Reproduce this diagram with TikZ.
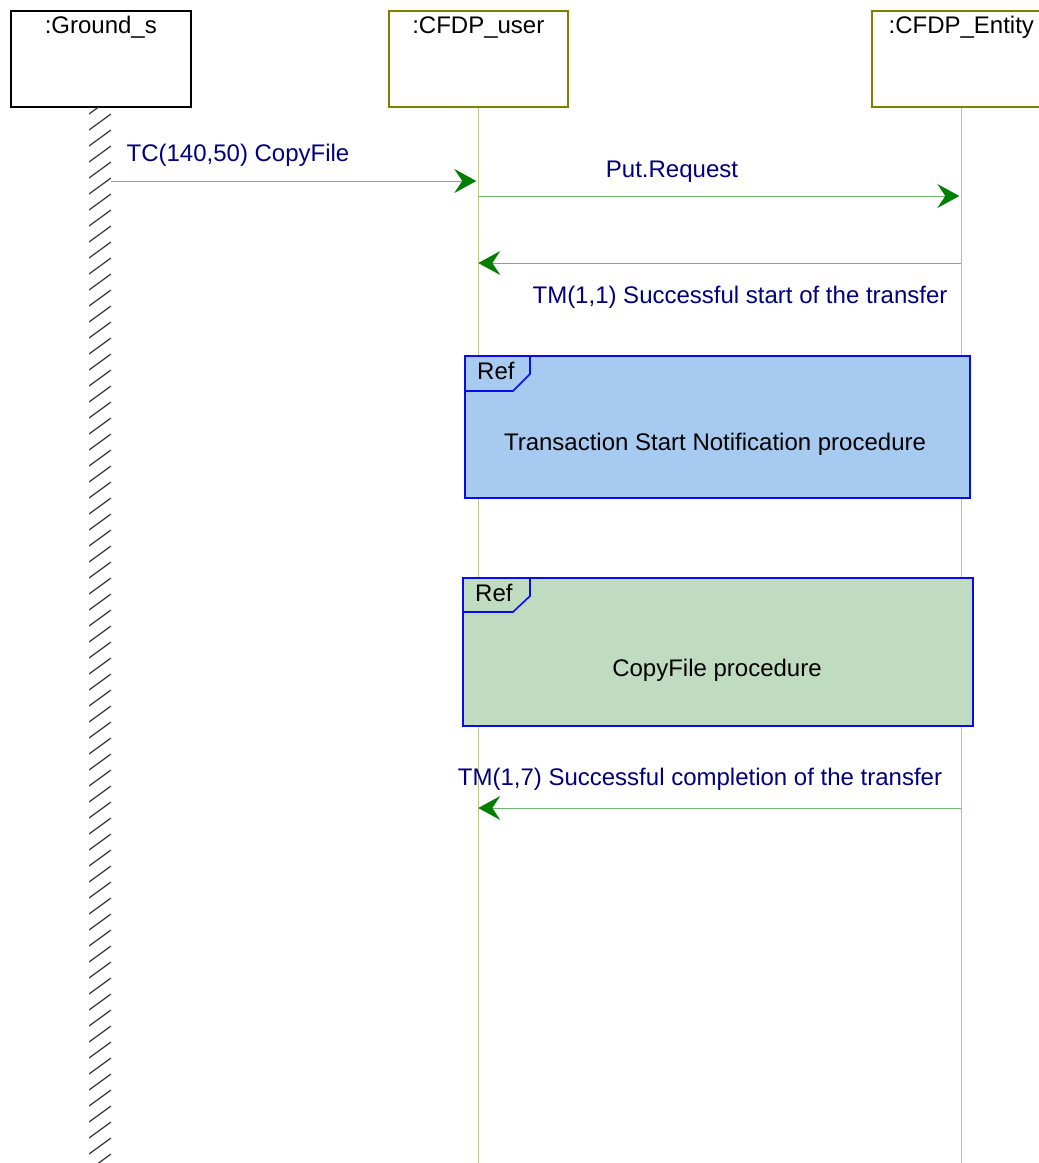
\documentclass[tikz,border=0pt]{standalone}
\usepackage{fontspec}
\setmainfont{Liberation Sans}
\usetikzlibrary{arrows.meta,positioning}

\definecolor{msgtext}{HTML}{000080}
\definecolor{msgline}{HTML}{6FB56F}
\definecolor{msghead}{HTML}{007F00}
\definecolor{objolive}{HTML}{808000}
\definecolor{lifekhaki}{HTML}{C4C48A}
\definecolor{refborder}{HTML}{0A0AF0}
\definecolor{refblue}{HTML}{A6CAF0}
\definecolor{refgreen}{HTML}{C0DCC0}

\begin{document}
\begin{tikzpicture}[x=1pt,y=-1pt,
    every node/.style={font=\fontsize{24}{28}\selectfont},
    objbox/.style={draw=objolive, line width=1.6pt, minimum width=179pt,
        minimum height=96pt, inner sep=0pt, anchor=north west},
    objname/.style={anchor=base, inner sep=0pt},
    lifeline/.style={draw=lifekhaki, line width=1pt},
    hatch/.style={draw=black!80, line width=1.2pt},
    msg/.style={draw=msgline, line width=1pt,
        -{Stealth[length=22pt,width=24pt,inset=8pt,color=msghead]}},
    msglabel/.style={text=msgtext, anchor=base, inner sep=0pt},
    refframe/.style={draw=refborder, line width=1.6pt, inner sep=0pt, anchor=north west},
    reftab/.style={draw=refborder, line width=1.6pt},
    reftext/.style={anchor=base, inner sep=0pt}]

    \useasboundingbox (0,0) rectangle (1039,1163);
    \clip (0,0) rectangle (1039,1163);
    \fill[white] (0,0) rectangle (1039,1163);

    % objects
    \node[objbox, draw=black, minimum width=180pt] (ground) at (10,10) {};
    \node[objbox] (user) at (388,10) {};
    \node[objbox] (entity) at (871,10) {};
    \node[objname] (groundname) at ([yshift=-23.5pt]ground.north) {:Ground\_s};
    \node[objname] (username) at ([yshift=-23.5pt]user.north) {:CFDP\_user};
    \node[objname] (entityname) at ([yshift=-23.5pt]entity.north) {:CFDP\_Entity};

    % lifelines
    \coordinate (userend) at (user.south |- 0,1163);
    \coordinate (entityend) at (entity.south |- 0,1163);
    \draw[lifeline] (user.south) -- (userend);
    \draw[lifeline] (entity.south) -- (entityend);
    \begin{scope}
        \clip (89,107) rectangle (111,1163);
        \foreach \y in {98,114,...,1180}
            \draw[hatch] (89,\y+16) -- (111,\y);
    \end{scope}

    % messages
    \coordinate (tcstart) at (111,181);
    \coordinate (tcend) at ([xshift=-2pt]user.south |- tcstart);
    \coordinate (putstart) at (user.south |- 0,196);
    \coordinate (putend) at ([xshift=-2pt]entity.south |- putstart);
    \coordinate (tmastart) at (entity.south |- 0,263);
    \coordinate (tmaend) at (user.south |- tmastart);
    \coordinate (tmbstart) at (entity.south |- 0,808);
    \coordinate (tmbend) at (user.south |- tmbstart);
    \draw[msg] (tcstart) -- (tcend);
    \draw[msg] (putstart) -- (putend);
    \draw[msg] (tmastart) -- (tmaend);
    \draw[msg] (tmbstart) -- (tmbend);
    \node[msglabel] (tclabel) at (238,161) {TC(140,50) CopyFile};
    \node[msglabel] (putlabel) at (672,177) {Put.Request};
    \node[msglabel] (tmalabel) at (740,303) {TM(1,1) Successful start of the transfer};
    \node[msglabel] (tmblabel) at (700,785) {TM(1,7) Successful completion of the transfer};

    % ref frames
    \node[refframe, fill=refblue, minimum width=505pt, minimum height=142pt] (refstart) at (464,355) {};
    \draw[reftab] (refstart.north west) ++(66,0) -- ++(0,19) -- ++(-17,17) -- ++(-49,0);
    \node[reftext, anchor=base west] (refstartref) at ([xshift=13pt,yshift=-24pt]refstart.north west) {Ref};
    \node[reftext] (refstarttext) at (715,450) {Transaction Start Notification procedure};

    \node[refframe, fill=refgreen, minimum width=510pt, minimum height=148pt] (refcopy) at (462,577) {};
    \draw[reftab] (refcopy.north west) ++(68,0) -- ++(0,19) -- ++(-17,16) -- ++(-51,0);
    \node[reftext, anchor=base west] (refcopyref) at ([xshift=13pt,yshift=-24pt]refcopy.north west) {Ref};
    \node[reftext] (refcopytext) at (717,676) {CopyFile procedure};
\end{tikzpicture}
\end{document}
